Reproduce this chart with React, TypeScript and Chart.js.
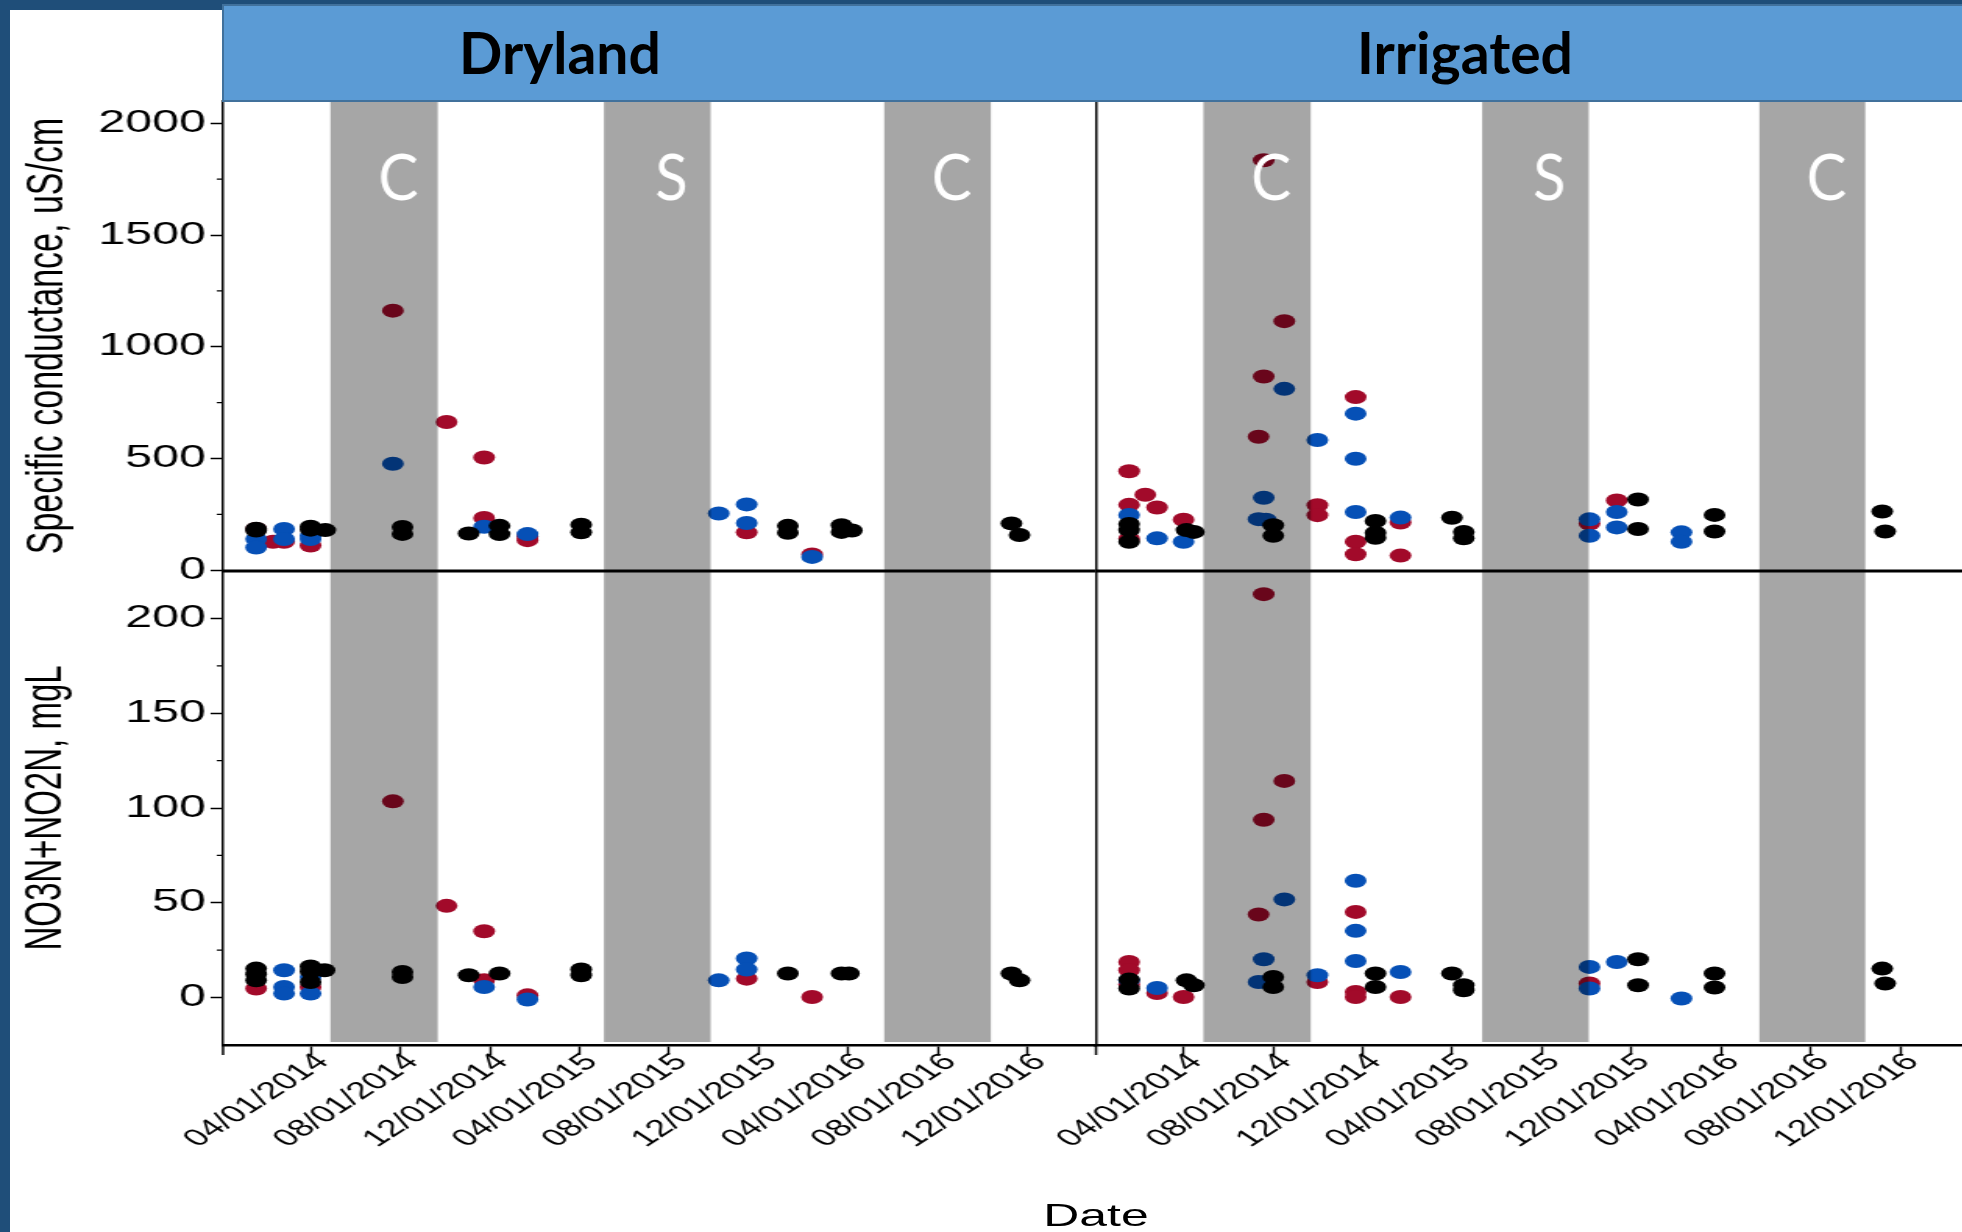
import React, { useEffect, useRef } from 'react';
import { Chart, registerables } from 'chart.js';

Chart.register(...registerables);

// ---------------- data ----------------
const panels = ['Dryland', 'Irrigated'];
const tickDates = ['2014-04-01', '2014-08-01', '2014-12-01', '2015-04-01', '2015-08-01', '2015-12-01', '2016-04-01', '2016-08-01', '2016-12-01'];
const xRange = ['2013-12-03', '2017-03-04'];
const condTicks = [0, 500, 1000, 1500, 2000];
const condMinorTicks = [250, 750, 1250, 1750];
const no3Ticks = [0, 50, 100, 150, 200];
const no3MinorTicks = [25, 75, 125, 175];
const condRange = [-3, 2100];
const no3Range = [-25, 225];
const condTitle = 'Specific conductance, uS/cm';
const no3Title = 'NO3N+NO2N, mgL';
const xTitle = 'Date';

const seasonLabels = ['C', 'S', 'C'];
const drySeasonStart = ['2014-04-28', '2015-05-05', '2016-05-20'];
const drySeasonEnd = ['2014-09-21', '2015-09-27', '2016-10-12'];
const irrSeasonStart = ['2014-04-28', '2015-05-12', '2016-05-23'];
const irrSeasonEnd = ['2014-09-21', '2015-10-04', '2016-10-14'];

type Pt = [string, number];

const dryCondRed: Pt[] = [['2014-01-17', 185], ['2014-02-09', 128], ['2014-02-24', 128], ['2014-04-01', 111], ['2014-07-22', 1162], ['2014-10-03', 664], ['2014-11-23', 505], ['2014-11-23', 234], ['2015-01-21', 152], ['2015-01-21', 135], ['2015-11-15', 170], ['2016-02-12', 71]];
const dryCondBlue: Pt[] = [['2014-01-17', 140], ['2014-01-17', 102], ['2014-02-24', 185], ['2014-02-24', 140], ['2014-04-01', 155], ['2014-04-01', 140], ['2014-07-22', 477], ['2014-11-23', 195], ['2015-01-21', 162], ['2015-10-08', 254], ['2015-11-15', 295], ['2015-11-15', 212], ['2016-02-12', 60]];
const dryCondBlack: Pt[] = [['2014-01-17', 186], ['2014-01-17', 178], ['2014-04-01', 195], ['2014-04-01', 182], ['2014-04-21', 180], ['2014-08-04', 194], ['2014-08-04', 163], ['2014-11-02', 165], ['2014-12-14', 199], ['2014-12-14', 162], ['2015-04-04', 204], ['2015-04-04', 170], ['2016-01-10', 199], ['2016-01-10', 168], ['2016-03-23', 202], ['2016-03-23', 172], ['2016-04-06', 178], ['2016-11-09', 210], ['2016-11-20', 158]];

const irrCondRed: Pt[] = [['2014-01-17', 443], ['2014-01-17', 293], ['2014-01-17', 141], ['2014-02-08', 338], ['2014-02-24', 281], ['2014-04-01', 226], ['2014-07-12', 598], ['2014-07-19', 1835], ['2014-07-19', 867], ['2014-08-16', 1115], ['2014-09-30', 291], ['2014-09-30', 247], ['2014-11-21', 775], ['2014-11-21', 128], ['2014-11-21', 72], ['2015-01-21', 214], ['2015-01-21', 66], ['2015-10-05', 209], ['2015-11-11', 313]];
const irrCondBlue: Pt[] = [['2014-01-17', 248], ['2014-02-24', 143], ['2014-04-01', 128], ['2014-07-12', 229], ['2014-07-22', 226], ['2014-07-19', 325], ['2014-08-16', 812], ['2014-09-30', 583], ['2014-11-21', 701], ['2014-11-21', 499], ['2014-11-21', 261], ['2015-01-21', 236], ['2015-10-05', 228], ['2015-10-05', 155], ['2015-11-11', 261], ['2015-11-11', 192], ['2016-02-07', 170], ['2016-02-07', 128]];
const irrCondBlack: Pt[] = [['2014-01-17', 207], ['2014-01-17', 180], ['2014-01-17', 128], ['2014-04-05', 180], ['2014-04-15', 172], ['2014-08-01', 202], ['2014-08-01', 155], ['2014-12-18', 221], ['2014-12-18', 168], ['2014-12-18', 146], ['2015-04-01', 235], ['2015-04-17', 172], ['2015-04-17', 143], ['2015-12-10', 317], ['2015-12-10', 185], ['2016-03-23', 248], ['2016-03-23', 174], ['2016-11-06', 263], ['2016-11-10', 174]];

const dryNo3Red: Pt[] = [['2014-01-17', 4.8], ['2014-04-01', 5.6], ['2014-07-22', 103.5], ['2014-10-03', 48.4], ['2014-11-23', 35], ['2014-11-23', 9.1], ['2015-01-21', 1.2], ['2015-11-15', 10], ['2016-02-12', 0.3]];
const dryNo3Blue: Pt[] = [['2014-02-24', 14.4], ['2014-02-24', 5.6], ['2014-02-24', 2.1], ['2014-04-01', 10.9], ['2014-04-01', 2.1], ['2014-11-23', 5.6], ['2015-01-21', -1], ['2015-10-08', 9.1], ['2015-11-15', 20.6], ['2015-11-15', 14.8]];
const dryNo3Black: Pt[] = [['2014-01-17', 15.3], ['2014-01-17', 12.3], ['2014-01-17', 9.1], ['2014-04-01', 16.4], ['2014-04-01', 13.8], ['2014-04-01', 8.2], ['2014-04-20', 14.4], ['2014-08-04', 13.5], ['2014-08-04', 10.9], ['2014-11-02', 11.8], ['2014-12-14', 12.7], ['2015-04-04', 14.8], ['2015-04-04', 11.8], ['2016-01-10', 12.7], ['2016-03-23', 12.7], ['2016-04-02', 12.7], ['2016-11-09', 12.7], ['2016-11-20', 9.1]];

const irrNo3Red: Pt[] = [['2014-01-17', 18.8], ['2014-01-17', 14.4], ['2014-01-17', 6.9], ['2014-02-24', 2.4], ['2014-04-01', 0.3], ['2014-07-12', 43.8], ['2014-07-19', 212.8], ['2014-07-19', 93.8], ['2014-08-16', 114.3], ['2014-09-30', 8.2], ['2014-11-21', 45.2], ['2014-11-21', 3], ['2014-11-21', 0.3], ['2015-01-21', 0.3], ['2015-10-05', 7.4]];
const irrNo3Blue: Pt[] = [['2014-01-17', 9.1], ['2014-02-24', 5.1], ['2014-07-12', 8.2], ['2014-07-22', 8.2], ['2014-07-19', 20.2], ['2014-08-16', 51.8], ['2014-09-30', 11.8], ['2014-11-21', 61.6], ['2014-11-21', 35.2], ['2014-11-21', 19.3], ['2015-01-21', 13.5], ['2015-10-05', 16.2], ['2015-10-05', 4.8], ['2015-11-11', 18.8], ['2016-02-07', -0.5]];
const irrNo3Black: Pt[] = [['2014-01-17', 4.8], ['2014-01-17', 9.5], ['2014-04-05', 9.1], ['2014-04-15', 6.5], ['2014-08-01', 10.9], ['2014-08-01', 5.6], ['2014-12-18', 12.7], ['2014-12-18', 5.6], ['2015-04-01', 12.7], ['2015-04-17', 6.5], ['2015-04-17', 3.9], ['2015-12-10', 20.2], ['2015-12-10', 6.5], ['2016-03-23', 12.7], ['2016-03-23', 5.3], ['2016-11-06', 15.3], ['2016-11-10', 7.4]];

// ---------------- style ----------------
const RED = '#A20A2A';
const BLUE = '#0650B6';
const BLACK = '#000000';
const NAVY = '#1F4E79';
const HEADER = '#5B9BD5';
const HEADER_EDGE = '#41719C';
const FONT = '"Liberation Sans", Arial, sans-serif';

const STRETCH = 1.56; // the picture is stretched horizontally
const CANVAS_H = 1232;
const AREA_TOP = 101;
const AREA_BOTTOM = 1045;
const XAXIS_H = 150;
const LEFT_AXIS = 223 / STRETCH;
const DIVIDER = 1096 / STRETCH;
const RIGHT_END = 1969 / STRETCH;
const LEFT_W = 740;
const RIGHT_X0 = 600;
const RIGHT_W = 700;

const DAY = 86400000;
const dayNum = (s: string) => Date.parse(s) / DAY;
const fmtDate = (v: number) => {
  const d = new Date(Math.round(v) * DAY);
  const mm = String(d.getUTCMonth() + 1).padStart(2, '0');
  const dd = String(d.getUTCDate()).padStart(2, '0');
  return `${mm}/${dd}/${d.getUTCFullYear()}`;
};

const toData = (pts: Pt[]) => pts.map(([d, v]) => ({ x: dayNum(d), y: v }));

const ds = (pts: Pt[], color: string, axis: string) => ({
  data: toData(pts),
  yAxisID: axis,
  backgroundColor: color,
  borderColor: color,
  borderWidth: 0,
  pointRadius: 7,
  pointHoverRadius: 7,
  pointBorderWidth: 0,
});

const makeDecor = (starts: string[], ends: string[], isLeft: boolean) => ({
  id: 'decor',
  afterDatasetsDraw(chart: any) {
    const { ctx, chartArea: a, scales } = chart;
    const xs = scales.x;
    const yT = scales.yTop;
    const yB = scales.yBot;
    ctx.save();
    // season bands (semi-transparent overlay)
    ctx.fillStyle = 'rgba(0,0,0,0.35)';
    const centers: number[] = [];
    starts.forEach((s, i) => {
      const x0 = xs.getPixelForValue(dayNum(s));
      const x1 = xs.getPixelForValue(dayNum(ends[i]));
      ctx.fillRect(x0, a.top, x1 - x0, a.bottom - 3 - a.top);
      centers.push((x0 + x1) / 2);
    });
    // row divider
    ctx.strokeStyle = '#000';
    ctx.lineWidth = 3;
    ctx.beginPath();
    ctx.moveTo(a.left, yT.bottom);
    ctx.lineTo(a.right, yT.bottom);
    ctx.stroke();
    // axis extension below the x axis
    ctx.lineWidth = 1.5;
    ctx.beginPath();
    ctx.moveTo(a.left, a.bottom);
    ctx.lineTo(a.left, a.bottom + 10);
    ctx.stroke();
    if (isLeft) {
      ctx.lineWidth = 1.3;
      ctx.beginPath();
      condMinorTicks.forEach((v) => {
        const y = yT.getPixelForValue(v);
        ctx.moveTo(a.left - 4, y);
        ctx.lineTo(a.left, y);
      });
      no3MinorTicks.forEach((v) => {
        const y = yB.getPixelForValue(v);
        ctx.moveTo(a.left - 4, y);
        ctx.lineTo(a.left, y);
      });
      ctx.stroke();
    }
    // season letters (drawn un-stretched)
    ctx.fillStyle = '#fff';
    ctx.font = '63px Lato, "Open Sans", sans-serif';
    ctx.textAlign = 'center';
    ctx.textBaseline = 'alphabetic';
    centers.forEach((cx, i) => {
      ctx.save();
      ctx.translate(cx + 9, 200);
      ctx.scale(0.95 / STRETCH, 1);
      ctx.fillText(seasonLabels[i], 0, 0);
      ctx.restore();
    });
    ctx.restore();
  },
});

function buildConfig(isLeft: boolean): any {
  const cR = isLeft ? dryCondRed : irrCondRed;
  const cB = isLeft ? dryCondBlue : irrCondBlue;
  const cK = isLeft ? dryCondBlack : irrCondBlack;
  const nR = isLeft ? dryNo3Red : irrNo3Red;
  const nB = isLeft ? dryNo3Blue : irrNo3Blue;
  const nK = isLeft ? dryNo3Black : irrNo3Black;
  const width = isLeft ? LEFT_W : RIGHT_W;
  const areaLeft = isLeft ? LEFT_AXIS : DIVIDER - RIGHT_X0;
  const areaRight = isLeft ? DIVIDER : RIGHT_END - RIGHT_X0;

  const yAxis = (range: number[], ticks: number[], title: string, titleSize: number, weight: number) => ({
    type: 'linear',
    position: 'left',
    stack: 'rows',
    stackWeight: weight,
    min: range[0],
    max: range[1],
    afterBuildTicks: (s: any) => {
      s.ticks = ticks.map((v) => ({ value: v }));
    },
    afterFit: (s: any) => {
      s.width = isLeft ? LEFT_AXIS : 0;
    },
    ticks: {
      display: isLeft,
      color: '#000',
      font: { size: 31, family: FONT },
      padding: 3,
      callback: (v: any) => String(v),
    },
    grid: { drawOnChartArea: false, drawTicks: isLeft, tickLength: 8, color: '#000', tickWidth: 1.5 },
    border: { display: true, color: '#000', width: 1.5 },
    title: {
      display: isLeft,
      text: title,
      color: '#000',
      font: { size: titleSize, family: FONT },
      padding: { top: 10, bottom: 0 },
    },
  });

  return {
    type: 'scatter',
    data: {
      datasets: [
        ds(cK, BLACK, 'yTop'),
        ds(cB, BLUE, 'yTop'),
        ds(cR, RED, 'yTop'),
        ds(nK, BLACK, 'yBot'),
        ds(nB, BLUE, 'yBot'),
        ds(nR, RED, 'yBot'),
      ],
    },
    options: {
      animation: false,
      responsive: false,
      events: [],
      layout: {
        padding: {
          left: isLeft ? 0 : areaLeft,
          right: width - areaRight,
          top: AREA_TOP,
          bottom: CANVAS_H - AREA_BOTTOM - XAXIS_H,
        },
      },
      plugins: { legend: { display: false }, tooltip: { enabled: false }, title: { display: false } },
      scales: {
        x: {
          type: 'linear',
          position: 'bottom',
          min: dayNum(xRange[0]),
          max: dayNum(xRange[1]),
          afterBuildTicks: (s: any) => {
            s.ticks = tickDates.map((d) => ({ value: dayNum(d) }));
          },
          afterFit: (s: any) => {
            s.height = XAXIS_H;
          },
          ticks: {
            autoSkip: false,
            minRotation: 45,
            maxRotation: 45,
            color: '#000',
            font: { size: 24, family: FONT },
            padding: -7,
            labelOffset: 8,
            callback: (v: any) => fmtDate(Number(v)),
          },
          grid: { drawOnChartArea: false, drawTicks: true, tickLength: 10, color: '#000', tickWidth: 1.4 },
          border: { display: true, color: '#000', width: 2.5 },
        },
        yBot: yAxis(no3Range, no3Ticks, no3Title, 33, 474),
        yTop: yAxis(condRange, condTicks, condTitle, 34, 470),
      },
    },
    plugins: [isLeft ? makeDecor(drySeasonStart, drySeasonEnd, true) : makeDecor(irrSeasonStart, irrSeasonEnd, false)],
  };
}

export default function App() {
  const leftRef = useRef<HTMLCanvasElement>(null);
  const rightRef = useRef<HTMLCanvasElement>(null);

  useEffect(() => {
    Chart.defaults.font.family = FONT;
    const c1 = new Chart(leftRef.current as HTMLCanvasElement, buildConfig(true));
    const c2 = new Chart(rightRef.current as HTMLCanvasElement, buildConfig(false));
    return () => {
      c1.destroy();
      c2.destroy();
    };
  }, []);

  return (
    <div style={{ position: 'fixed', left: 0, top: 0, width: 1962, height: 1232, overflow: 'hidden', background: NAVY }}>
      <div style={{ position: 'absolute', left: 10, top: 10, right: 0, bottom: 0, background: '#fff' }} />
      <div
        style={{
          position: 'absolute',
          left: 0,
          top: 0,
          width: 1300,
          height: CANVAS_H,
          transform: `scaleX(${STRETCH})`,
          transformOrigin: '0 0',
        }}
      >
        <canvas ref={leftRef} width={LEFT_W} height={CANVAS_H} style={{ position: 'absolute', left: 0, top: 0 }} />
        <canvas ref={rightRef} width={RIGHT_W} height={CANVAS_H} style={{ position: 'absolute', left: RIGHT_X0, top: 0 }} />
        <svg width={1300} height={CANVAS_H} style={{ position: 'absolute', left: 0, top: 0, pointerEvents: 'none' }}>
          <text x={DIVIDER} y={1226} textAnchor="middle" fontFamily={FONT} fontSize={32} fill="#000">
            {xTitle}
          </text>
        </svg>
      </div>
      <svg width={1962} height={120} style={{ position: 'absolute', left: 0, top: 0 }}>
        <rect x={223} y={5} width={1760} height={96} fill={HEADER} stroke={HEADER_EDGE} strokeWidth={2} />
        <text x={560} y={74} textAnchor="middle" fontFamily="Lato, sans-serif" fontWeight="bold" fontSize={57} fill="#000">
          {panels[0]}
        </text>
        <text x={1465} y={74} textAnchor="middle" fontFamily="Lato, sans-serif" fontWeight="bold" fontSize={57} fill="#000">
          {panels[1]}
        </text>
      </svg>
    </div>
  );
}
